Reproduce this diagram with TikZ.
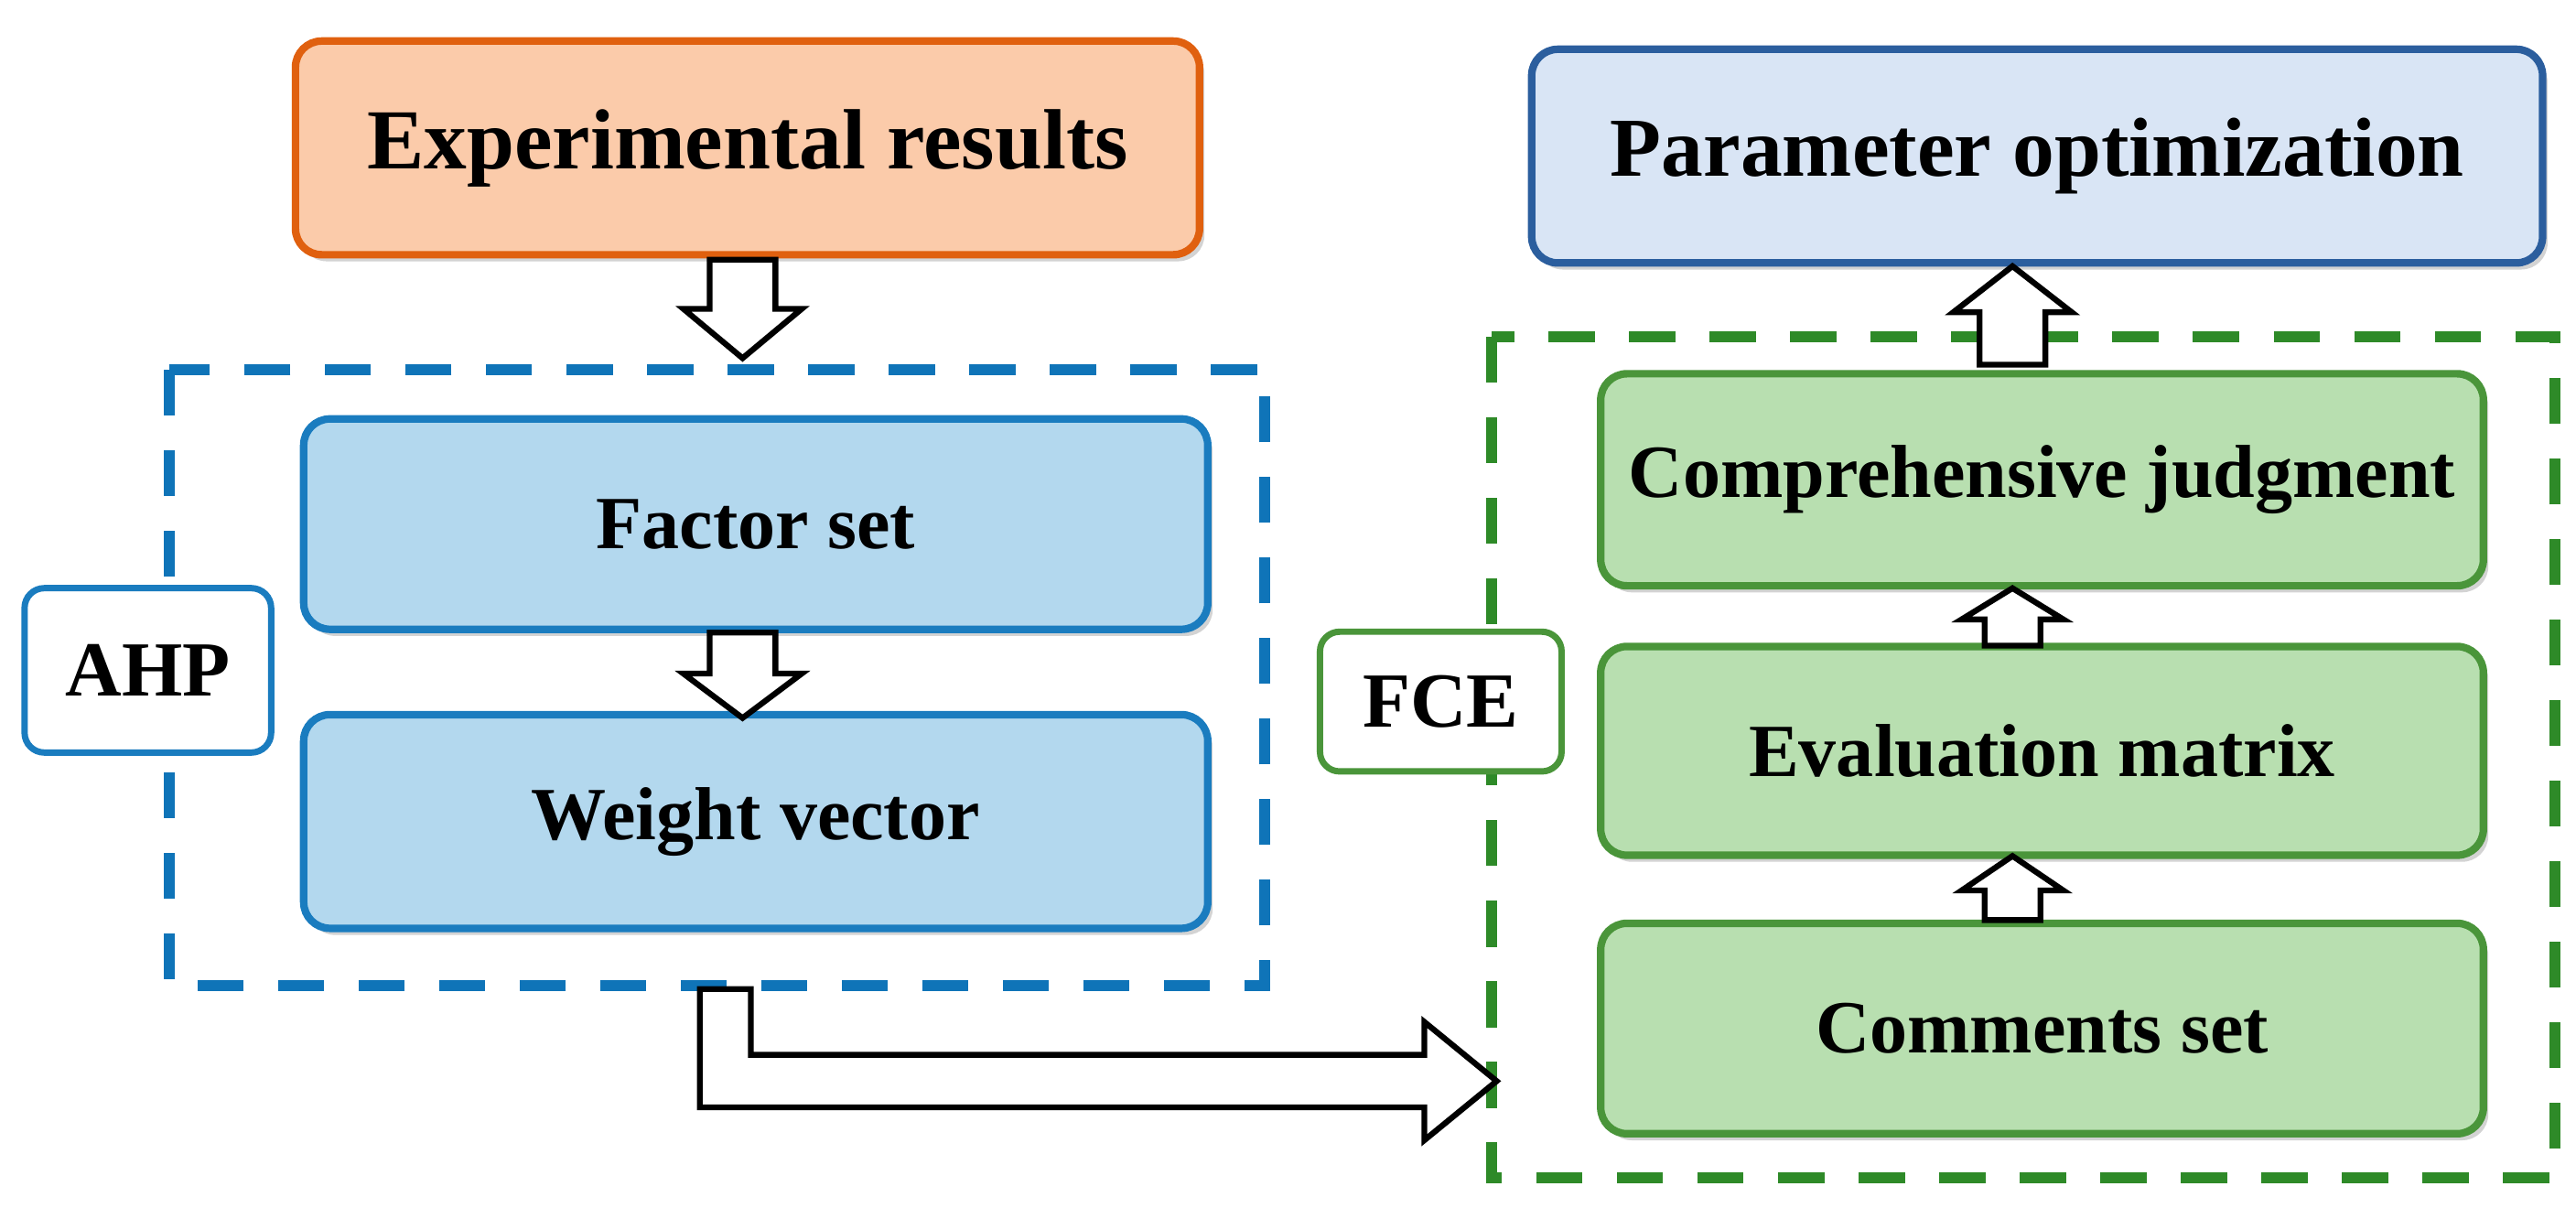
\documentclass[tikz,border=0pt]{standalone}
\usepackage{fontspec}
\setmainfont{Liberation Serif}
\usetikzlibrary{shadows}
\definecolor{orgF}{HTML}{FBCBAA}\definecolor{orgD}{HTML}{E0600F}
\definecolor{pbF}{HTML}{D9E5F5}\definecolor{pbD}{HTML}{2B5E9E}
\definecolor{bF}{HTML}{B3D8EE}\definecolor{bD}{HTML}{1A7CBF}
\definecolor{gF}{HTML}{B8DFB0}\definecolor{gD}{HTML}{4A953A}
\definecolor{dashB}{HTML}{0F74B8}\definecolor{dashG}{HTML}{2E8A28}
\begin{document}
\begin{tikzpicture}[x=0.01cm,y=-0.01cm,
  box/.style={draw,rounded corners=0.16cm,line width=1.3pt,inner sep=0pt,font=\bfseries\fontsize{13}{15}\selectfont,drop shadow={shadow xshift=0.03cm,shadow yshift=-0.04cm,opacity=0.35}},
  lab/.style={draw,fill=white,rounded corners=0.12cm,line width=1.1pt,inner sep=0pt,font=\bfseries\fontsize{13.5}{15}\selectfont},
  dbox/.style={line width=1.9pt,dash pattern=on 0.28cm off 0.21cm},
  barrow/.style={draw=black,fill=white,line width=1pt,line join=miter}]
\useasboundingbox (0,0) rectangle (1568,735);
\draw[dbox,draw=dashB] (103,225) rectangle (770,600);
\draw[dbox,draw=dashG] (908,205) rectangle (1555,717);
\node[box,fill=orgF,draw=orgD,minimum width=5.5cm,minimum height=1.3cm,font=\bfseries\fontsize{14.8}{16}\selectfont] (exp) at (455,90) {Experimental results};
\node[box,fill=pbF,draw=pbD,minimum width=6.15cm,minimum height=1.3cm,font=\bfseries\fontsize{14.5}{16}\selectfont] (par) at (1240,95) {Parameter optimization};
\node[box,fill=bF,draw=bD,minimum width=5.5cm,minimum height=1.28cm] (fac) at (460,319) {Factor set};
\node[box,fill=bF,draw=bD,minimum width=5.5cm,minimum height=1.3cm] (wei) at (460,500) {Weight vector};
\node[box,fill=gF,draw=gD,minimum width=5.37cm,minimum height=1.29cm] (com) at (1243,292) {Comprehensive judgment};
\node[box,fill=gF,draw=gD,minimum width=5.37cm,minimum height=1.27cm] (eva) at (1243,457) {Evaluation matrix};
\node[box,fill=gF,draw=gD,minimum width=5.37cm,minimum height=1.28cm] (cmt) at (1243,626) {Comments set};
\node[lab,draw=bD,minimum width=1.5cm,minimum height=1.0cm] (ahp) at (90,408) {AHP};
\node[lab,draw=gD,minimum width=1.47cm,minimum height=0.85cm] (fce) at (877,427) {FCE};
% block arrows
\draw[barrow] (432,158) -- (472,158) -- (472,188) -- (488,188) -- (452,218) -- (416,188) -- (432,188) -- cycle;
\draw[barrow] (432,385) -- (472,385) -- (472,410) -- (488,410) -- (452,437) -- (416,410) -- (432,410) -- cycle;
\draw[barrow] (1205,222) -- (1245,222) -- (1245,190) -- (1261,190) -- (1225,162) -- (1189,190) -- (1205,190) -- cycle;
\draw[barrow] (1208,393) -- (1242,393) -- (1242,377) -- (1256,377) -- (1225,358) -- (1194,377) -- (1208,377) -- cycle;
\draw[barrow] (1208,560) -- (1242,560) -- (1242,542) -- (1256,542) -- (1225,521) -- (1194,542) -- (1208,542) -- cycle;
\draw[barrow] (426,602) -- (457,602) -- (457,642) -- (867,642) -- (867,622) -- (911,658) -- (867,694) -- (867,674) -- (426,674) -- cycle;
\end{tikzpicture}
\end{document}
